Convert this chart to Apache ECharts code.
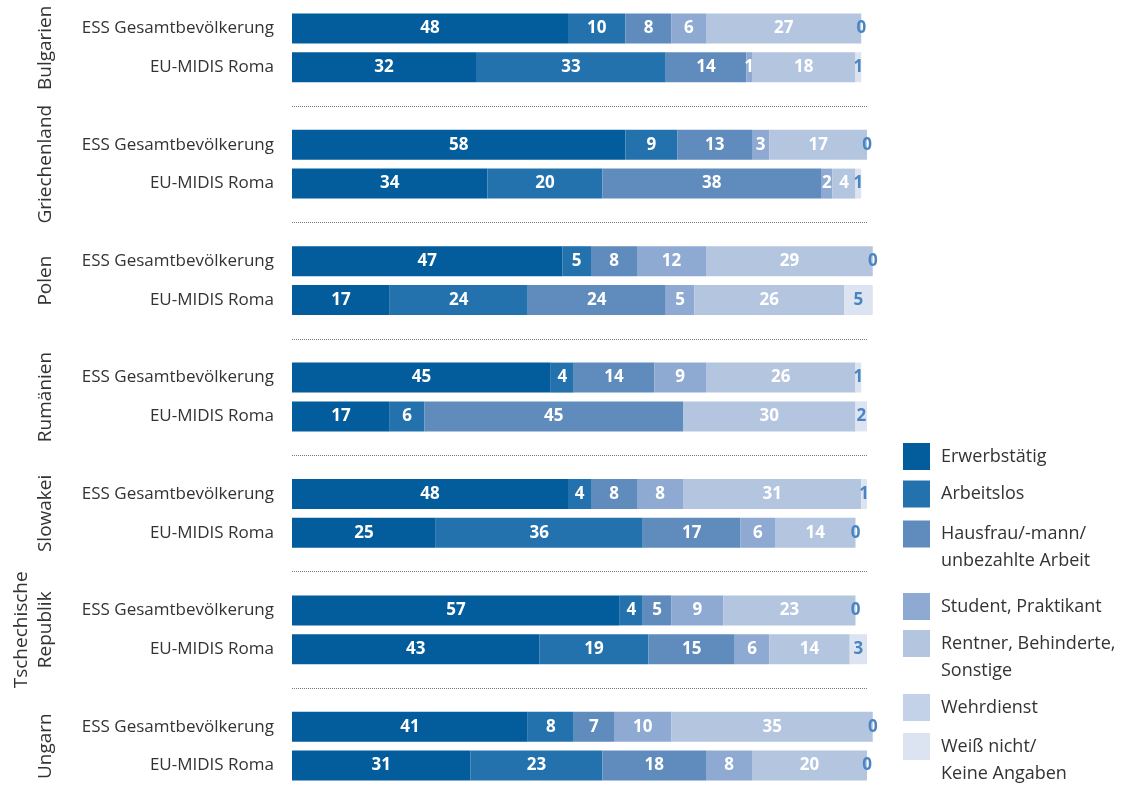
<!DOCTYPE html>
<html>
<head>
<meta charset="utf-8">
<script src="https://cdn.jsdelivr.net/npm/echarts@6/dist/echarts.min.js"></script>
<style>
html,body{margin:0;padding:0;background:#fff;}
#chart{width:1136px;height:790px;}
</style>
</head>
<body>
<div id="chart"></div>
<script>
// ---- data ----
const countries = ['Bulgarien', 'Griechenland', 'Polen', 'Rumänien', 'Slowakei', 'Tschechische\nRepublik', 'Ungarn'];
const surveys = ['ESS Gesamtbevölkerung', 'EU-MIDIS Roma'];
const seriesNames = ['Erwerbstätig', 'Arbeitslos', 'Hausfrau/-mann/\nunbezahlte Arbeit', 'Student, Praktikant', 'Rentner, Behinderte,\nSonstige', 'Wehrdienst', 'Weiß nicht/\nKeine Angaben'];
// order per country: ESS, Roma
const erwerbstaetig = [48, 32, 58, 34, 47, 17, 45, 17, 48, 25, 57, 43, 41, 31];
const arbeitslos    = [10, 33, 9, 20, 5, 24, 4, 6, 4, 36, 4, 19, 8, 23];
const hausfrau      = [8, 14, 13, 38, 8, 24, 14, 45, 8, 17, 5, 15, 7, 18];
const student       = [6, 1, 3, 2, 12, 5, 9, 0, 8, 6, 9, 6, 10, 8];
const rentner       = [27, 18, 17, 4, 29, 26, 26, 30, 31, 14, 23, 14, 35, 20];
const wehrdienst    = [0, 0, 0, 0, 0, 0, 0, 0, 0, 0, 0, 0, 0, 0];
const weissNicht    = [0, 1, 0, 1, 0, 5, 1, 2, 1, 0, 0, 3, 0, 0];
const seriesValues = [erwerbstaetig, arbeitslos, hausfrau, student, rentner, wehrdienst, weissNicht];

// ---- styles ----
const colors = ['#035c9b', '#2472ad', '#5f8bbd', '#8eaad3', '#b4c5e0', '#c4d2e9', '#dde4f1'];
const FONT = '"Open Sans", "DejaVu Sans", sans-serif';

// categories with spacer slots between countries
const categories = [];
const slotOf = [];
const spacerSlots = [];
countries.forEach((c, i) => {
  surveys.forEach((s, j) => { slotOf.push(categories.length); categories.push(s); });
  if (i < countries.length - 1) { spacerSlots.push(categories.length); categories.push(''); }
});

function toSlots(vals) {
  const arr = categories.map(() => '-');
  vals.forEach((v, k) => { arr[slotOf[k]] = v; });
  return arr;
}

const series = seriesNames.map((name, si) => {
  const last = si === seriesNames.length - 1;
  const s = {
    name: name,
    type: 'bar',
    stack: 'total',
    barWidth: 30,
    clip: false,
    itemStyle: { color: colors[si] },
    emphasis: { disabled: true },
    label: {
      show: true,
      position: 'inside',
      color: last ? '#4a85c1' : '#ffffff',
      fontFamily: FONT,
      fontWeight: 'bold',
      fontSize: 17,
      formatter: p => (last ? String(p.value) : (p.value === 0 ? '' : String(p.value)))
    },
    data: toSlots(seriesValues[si])
  };
  if (si === 0) {
    s.markLine = {
      silent: true,
      symbol: ['none', 'none'],
      label: { show: false },
      lineStyle: { type: 'dotted', color: '#777', width: 1 },
      data: spacerSlots.map(k => ({ yAxis: k }))
    };
  }
  return s;
});

// legends: one per item so multi-line entries align like the reference
const legendTops = [443, 480.5, 493.5, 593, 603, 694, 706];
const legends = seriesNames.map((name, i) => {
  const multi = name.indexOf('\n') >= 0;
  return {
    data: [name],
    left: 903,
    top: legendTops[i],
    padding: 0,
    itemWidth: 27,
    itemHeight: 27,
    icon: 'rect',
    selectedMode: false,
    formatter: n => (multi ? '\n' + n : n),
    textStyle: {
      fontFamily: FONT,
      fontSize: 18,
      color: '#333',
      lineHeight: 27,
      padding: [0, 0, 0, 6]
    }
  };
});

const chart = echarts.init(document.getElementById('chart'), null, { renderer: 'canvas' });
chart.setOption({
  animation: false,
  backgroundColor: '#fff',
  grid: { left: 292, right: 269, top: 9, bottom: 5, containLabel: false },
  xAxis: { type: 'value', min: 0, max: 100, show: false },
  yAxis: {
    type: 'category',
    data: categories,
    inverse: true,
    axisLine: { show: false },
    axisTick: { show: false },
    axisLabel: { fontFamily: FONT, fontSize: 17, color: '#333', margin: 18, interval: 0 }
  },
  legend: legends,
  series: series
});

// country labels, centred on each pair of bars via the axis scale
const graphics = countries.map((c, i) => {
  const y1 = chart.convertToPixel({ yAxisIndex: 0 }, slotOf[i * 2]);
  const y2 = chart.convertToPixel({ yAxisIndex: 0 }, slotOf[i * 2 + 1]);
  return {
    type: 'text',
    x: 58,
    y: (y1 + y2) / 2,
    rotation: Math.PI / 2,
    style: {
      text: c,
      fontFamily: FONT,
      fontSize: 19,
      fill: '#333',
      lineHeight: 24,
      align: 'center',
      verticalAlign: 'bottom'
    }
  };
});
chart.setOption({ graphic: graphics });
</script>
</body>
</html>
